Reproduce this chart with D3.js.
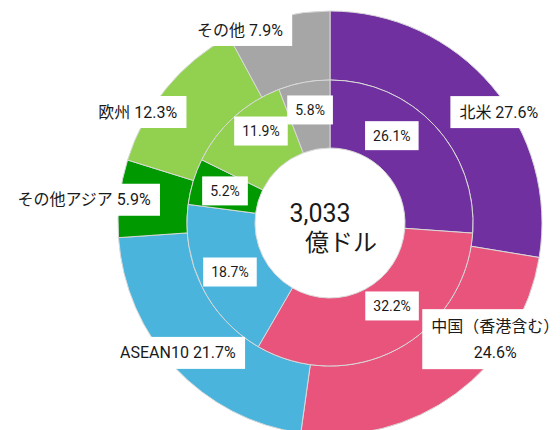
<!DOCTYPE html>
<html>
<head>
<meta charset="utf-8">
<script src="https://cdn.jsdelivr.net/npm/d3@7"></script>
<style>
  html, body { margin: 0; padding: 0; background: #fff; }
  svg text { font-family: Roboto, "Noto Sans CJK JP", sans-serif; fill: #1a1a1a; }
</style>
</head>
<body>
<div id="chart"></div>
<script>
// Regions (outer ring) and values
const regions = ['北米', '中国（香港含む）', 'ASEAN10', 'その他アジア', '欧州', 'その他'];
const outerValues = [27.6, 24.6, 21.7, 5.9, 12.3, 7.9];
const innerValues = [26.1, 32.2, 18.7, 5.2, 11.9, 5.8];
const colors = ['#7030a0', '#e8547c', '#4ab4dd', '#009a00', '#92d050', '#a6a6a6'];
const centerLabel = ['3,033', '億ドル'];

// label placement (polar: degrees clockwise from top, radius)
const outerLabelAngle = [56.7, 125.1, 229.5, 275.4, 300, 335];
const outerLabelRadius = [202, 202, 200, 247, 222, 213];
const innerLabelAngle = [35.3, 143.2, 243.9, 287, 323.1, 350];
const innerLabelRadius = [107, 103.6, 111.4, 109.8, 115, 114.8];

const width = 560, height = 430;
const cx = 330, cy = 223;
const rHole = 75, rMid = 143, rOuter = 212;

const svg = d3.select('#chart')
  .append('svg')
  .attr('width', width)
  .attr('height', height);

const g = svg.append('g').attr('transform', `translate(${cx},${cy})`);

const pie = d3.pie().sort(null).value(d => d);

const innerArc = d3.arc().innerRadius(rHole).outerRadius(rMid);
const outerArc = d3.arc().innerRadius(rMid).outerRadius(rOuter);

g.selectAll('path.outer')
  .data(pie(outerValues))
  .join('path')
  .attr('class', 'outer')
  .attr('d', outerArc)
  .attr('fill', (d, i) => colors[i])
  .attr('stroke', '#d9d9d9')
  .attr('stroke-width', 1);

g.selectAll('path.inner')
  .data(pie(innerValues))
  .join('path')
  .attr('class', 'inner')
  .attr('d', innerArc)
  .attr('fill', (d, i) => colors[i])
  .attr('stroke', '#d9d9d9')
  .attr('stroke-width', 1);

// boxed label helper
function boxedLabel(x, y, lines, size, padX, padY, lineH) {
  const lg = g.append('g').attr('transform', `translate(${x},${y})`);
  const rect = lg.append('rect').attr('fill', '#fff');
  const t = lg.append('text')
    .attr('text-anchor', 'middle')
    .attr('font-size', size);
  const n = lines.length;
  lines.forEach((s, i) => {
    t.append('tspan')
      .attr('x', 0)
      .attr('y', (i - (n - 1) / 2) * lineH)
      .attr('dy', '0.35em')
      .text(s);
  });
  const bb = t.node().getBBox();
  const h = n * lineH + padY * 2;
  rect.attr('x', bb.x - padX)
    .attr('y', -h / 2)
    .attr('width', bb.width + padX * 2)
    .attr('height', h);
}

const rad = a => a * Math.PI / 180;

regions.forEach((name, i) => {
  const [x, y] = d3.pointRadial(rad(outerLabelAngle[i]), outerLabelRadius[i]);
  const pct = outerValues[i].toFixed(1) + '%';
  const lines = i === 1 ? [name, pct] : [name + ' ' + pct];
  boxedLabel(x, y, lines, 16, 9, lines.length > 1 ? 4 : 6, lines.length > 1 ? 26 : 20);
});

innerValues.forEach((v, i) => {
  const [x, y] = d3.pointRadial(rad(innerLabelAngle[i]), innerLabelRadius[i]);
  boxedLabel(x, y, [v.toFixed(1) + '%'], 14, 8, 6, 17);
});

// center text
g.append('text')
  .attr('x', -10).attr('y', -10)
  .attr('dy', '0.35em')
  .attr('text-anchor', 'middle')
  .attr('font-size', 25)
  .text(centerLabel[0]);

g.append('text')
  .attr('x', 11).attr('y', 20)
  .attr('dy', '0.35em')
  .attr('text-anchor', 'middle')
  .attr('font-size', 24)
  .text(centerLabel[1]);
</script>
</body>
</html>
